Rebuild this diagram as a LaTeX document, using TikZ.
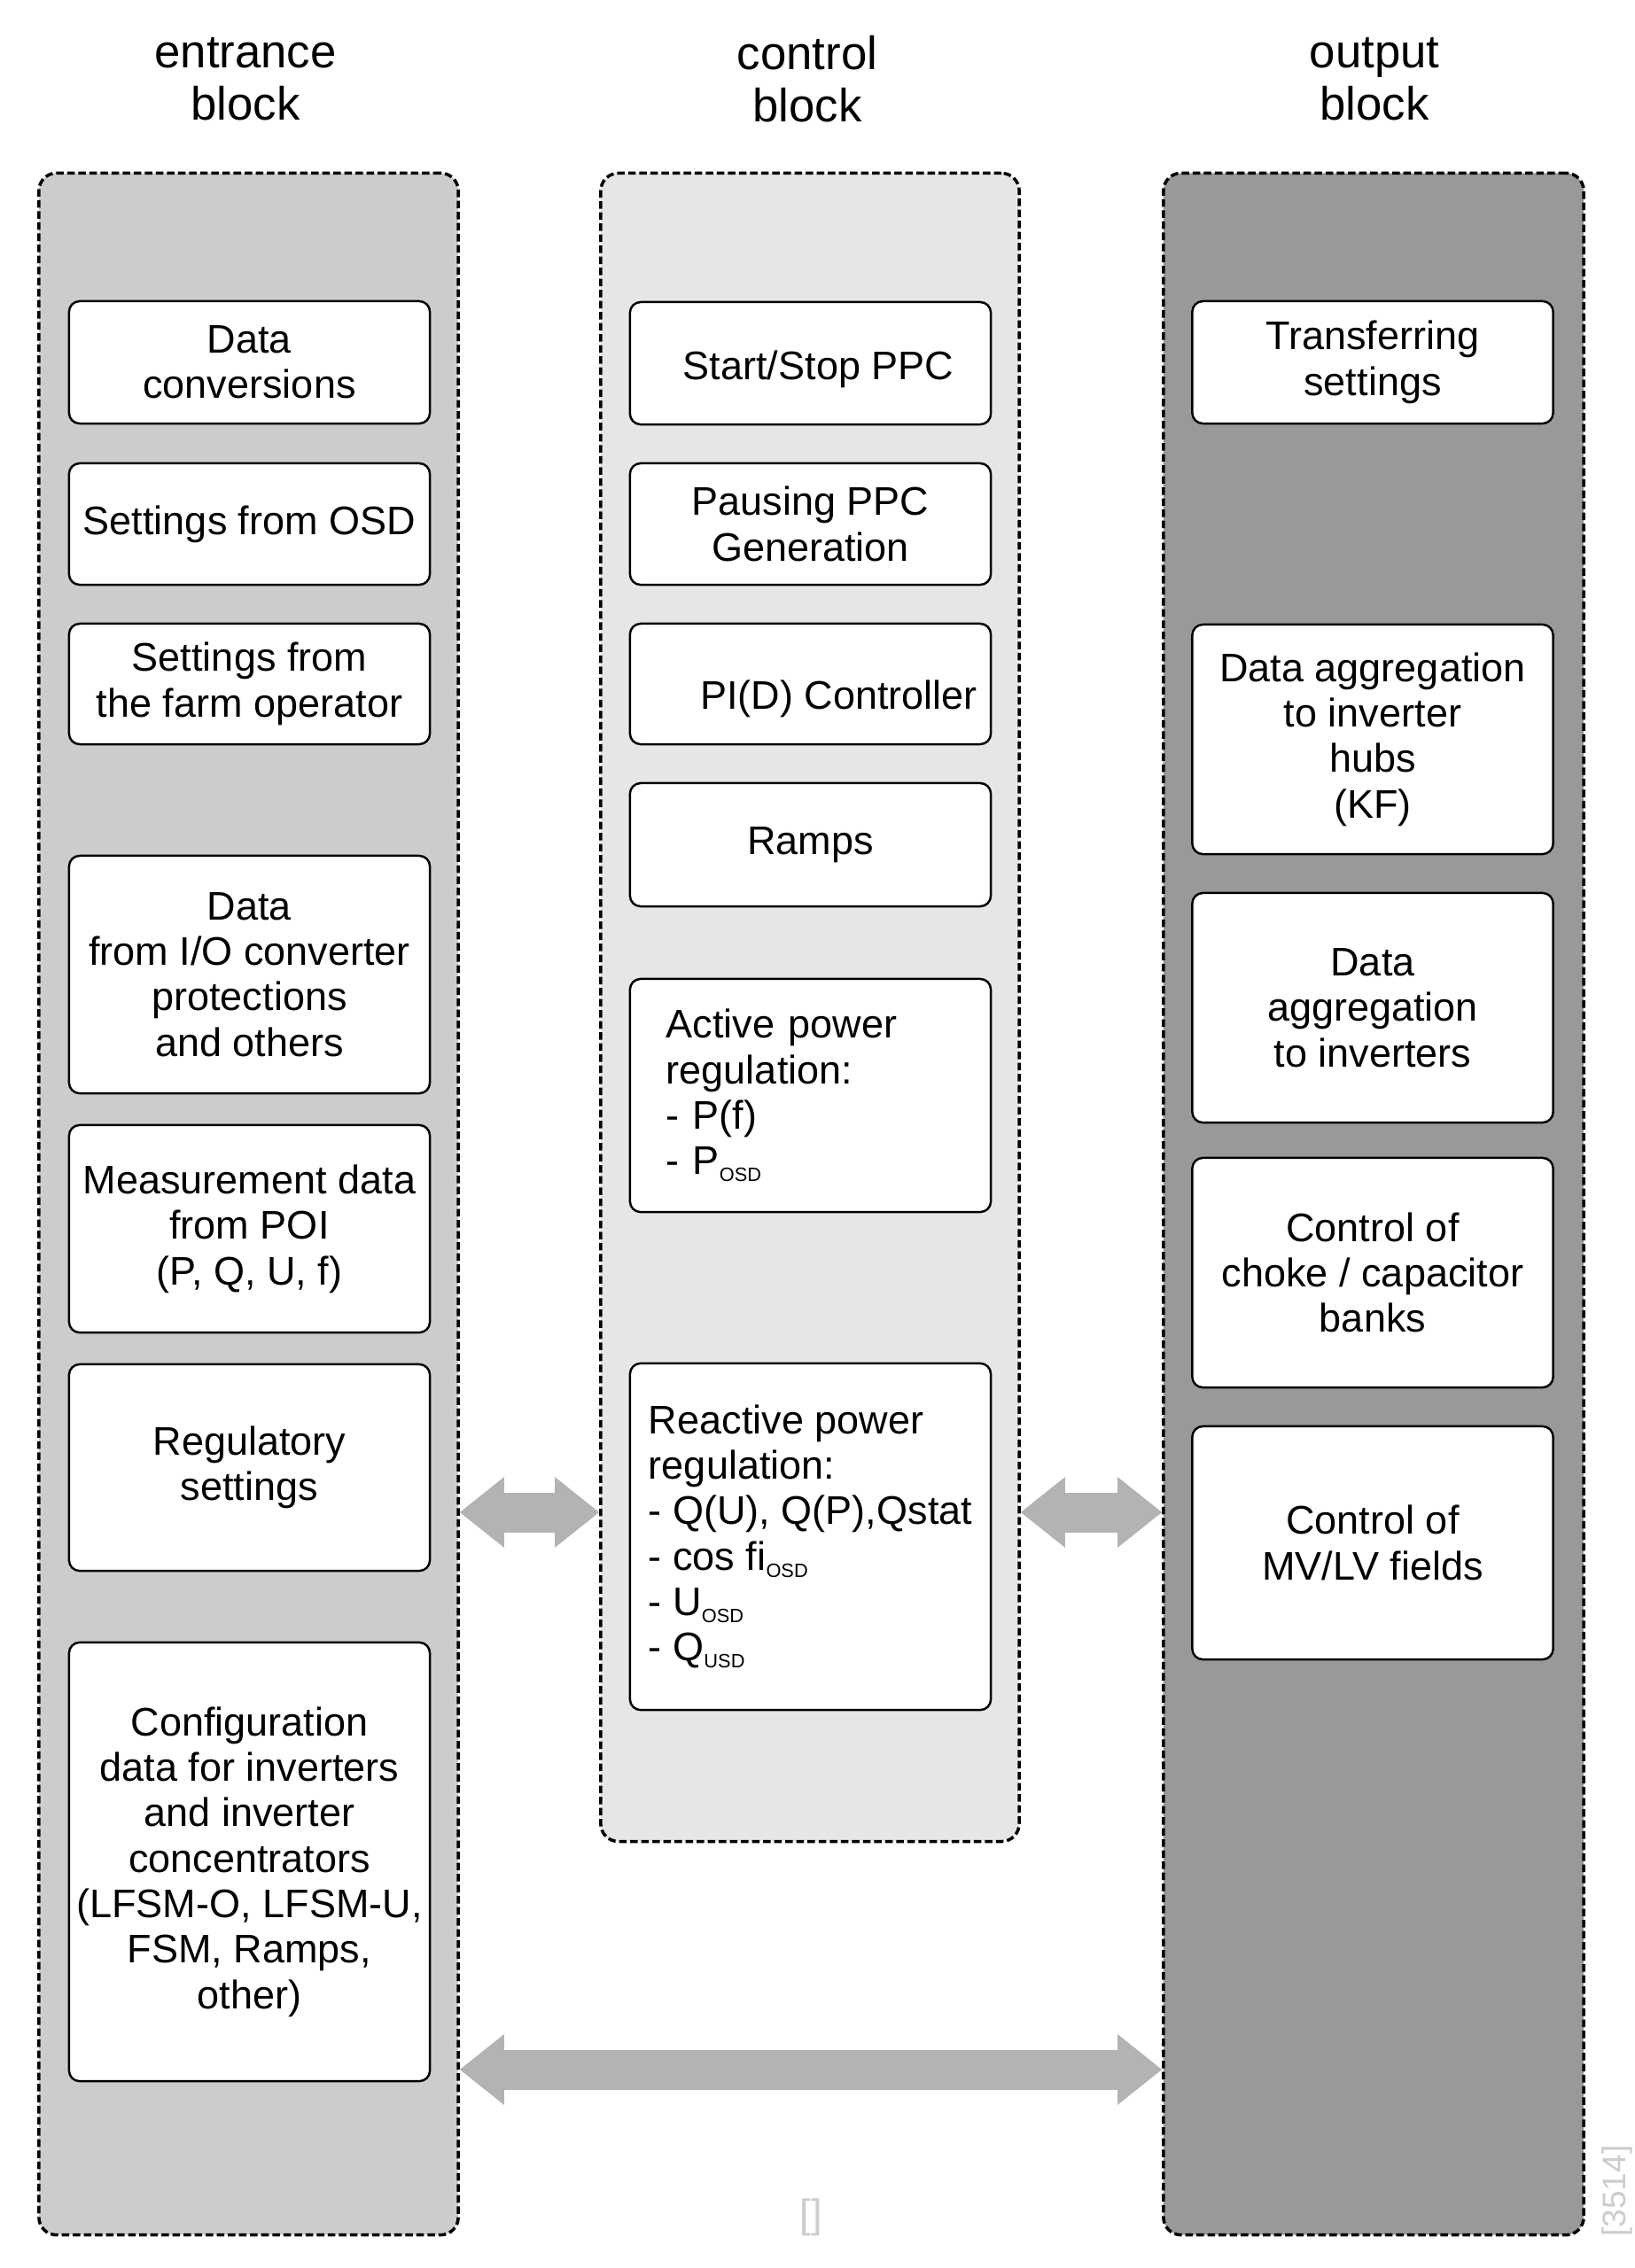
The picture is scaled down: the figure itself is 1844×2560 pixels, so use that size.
\documentclass[tikz,border=0pt]{standalone}
\usepackage{fontspec}
\setmainfont{Liberation Sans}
\usetikzlibrary{positioning, arrows.meta}

\definecolor{entgray}{HTML}{CCCCCC}
\definecolor{ctlgray}{HTML}{E6E6E6}
\definecolor{outgray}{HTML}{999999}
\definecolor{linkgray}{HTML}{B3B3B3}
\definecolor{faintgray}{HTML}{CCCCCC}

\newcommand{\boxfont}{\fontsize{12.8}{14.6}\selectfont}
\newcommand{\headfont}{\fontsize{15}{16.8}\selectfont}
\newcommand{\osd}[1]{\raisebox{-0.08cm}{\fontsize{6.2}{7}\selectfont #1}}

\begin{document}
\begin{tikzpicture}[
    x = 0.01cm, y = -0.01cm,
    block/.style = {draw = black, line width = 1pt, dash pattern = on 0.085cm off 0.04cm, rounded corners = 0.2cm, minimum width = 4.73cm},
    item/.style = {draw = black, fill = white, line width = 0.7pt, rounded corners = 0.12cm, minimum width = 4.07cm, inner sep = 0pt, align = center, font = \boxfont},
    title/.style = {align = center, font = \headfont},
    link/.style = {draw = linkgray, line width = 0.45cm, >={Triangle[length = 0.5cm, width = 0.79cm, line width = 1pt]}, <->},
    faint/.style = {text = faintgray, inner sep = 0pt}
]
\useasboundingbox (0,0) rectangle (1844,2560);

% blocks
\node[block, fill = entgray, minimum height = 23.26cm] (ent) at (280.5, 1359) {};
\node[block, fill = ctlgray, minimum width = 4.72cm, minimum height = 18.82cm] (ctl) at (914, 1137) {};
\node[block, fill = outgray, minimum width = 4.74cm, minimum height = 23.26cm] (out) at (1550, 1359) {};

\node[title] (enttitle) at (277, 89) {entrance\\block};
\node[title] (ctltitle) at (911, 89) {control\\block};
\node[title] (outtitle) at (1551, 89) {output\\block};

% entrance block
\node[item, minimum height = 1.38cm] (conv) at (281.5, 409) {Data\\conversions};
\node[item, minimum height = 1.37cm] (osdset) at (281.5, 591.5) {Settings from OSD};
\node[item, minimum height = 1.36cm] (farm) at (281.5, 772) {Settings from\\the farm operator};
\node[item, minimum height = 2.68cm] (io) at (281.5, 1100) {Data\\from I/O converter\\protections\\and others};
\node[item, minimum height = 2.34cm] (poi) at (281.5, 1387) {Measurement data\\from POI\\(P, Q, U, f)};
\node[item, minimum height = 2.33cm] (regset) at (281.5, 1656.5) {Regulatory\\settings};
\node[item, minimum height = 4.95cm] (config) at (281.5, 2101.5) {Configuration\\data for inverters\\and inverter\\concentrators\\(LFSM-O, LFSM-U,\\FSM, Ramps,\\other)};

% control block
\node[item, minimum height = 1.38cm, text height = 0.47cm, text depth = 0.1cm] (startstop) at (914.5, 410) {\hspace*{0.18cm}Start/Stop PPC};
\node[item, minimum height = 1.37cm] (pause) at (914.5, 591.5) {Pausing PPC\\Generation};
\node[item, minimum height = 1.36cm, text height = 0.57cm, text depth = 0cm] (pid) at (914.5, 772) {\hspace*{0.64cm}PI(D) Controller};
\node[item, minimum height = 1.39cm] (ramps) at (914.5, 953.5) {Ramps};
\node[item, minimum height = 2.63cm, align = left, text width = 3.25cm, inner xsep = 0.41cm] (active) at (914.5, 1236.5) {Active power\\regulation:\\- P(f)\\- P\osd{OSD}};
\node[item, minimum height = 3.91cm, align = left] (reactive) at (914.5, 1734.5) {Reactive power\\regulation:\\- Q(U), Q(P),Qstat\\- cos fi\osd{OSD}\\- U\osd{OSD}\\- Q\osd{USD}};

% output block
\node[item, minimum height = 1.38cm] (transfer) at (1549, 409) {Transferring\\settings};
\node[item, minimum height = 2.59cm] (hubs) at (1549, 834.5) {Data aggregation\\to inverter\\hubs\\(KF)};
\node[item, minimum height = 2.59cm] (invdata) at (1549, 1137.5) {Data\\aggregation\\to inverters};
\node[item, minimum height = 2.59cm] (choke) at (1549, 1436.5) {Control of\\choke / capacitor\\banks};
\node[item, minimum height = 2.63cm] (fields) at (1549, 1741.5) {Control of\\MV/LV fields};

% arrows
\coordinate (upper) at (0, 1707);
\coordinate (lower) at (0, 2336);
\draw[link] (ent.east |- upper) -- (ctl.west |- upper);
\draw[link] (ctl.east |- upper) -- (out.west |- upper);
\draw[link] (ent.east |- lower) -- (out.west |- lower);

\node[faint, font = \boxfont] (blank) at (915, 2503) {[]};
\node[faint, rotate = 90, font = \fontsize{10.5}{12}\selectfont] (figno) at (1825, 2473) {[3514]};
\end{tikzpicture}
\end{document}
